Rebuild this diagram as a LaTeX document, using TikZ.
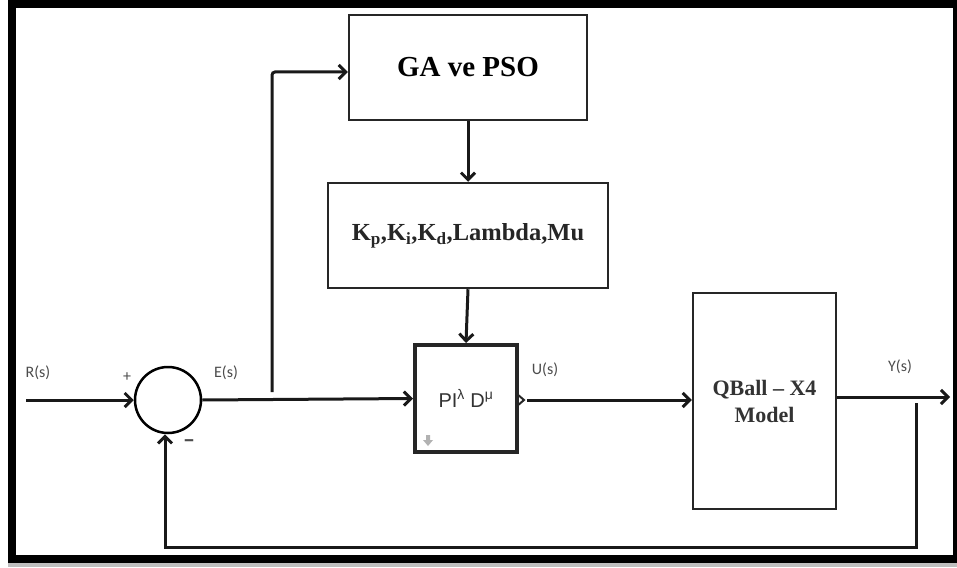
\documentclass[tikz,border=0pt]{standalone}
\usepackage{fontspec}
\usetikzlibrary{arrows.meta}
\newfontfamily\carl{Carlito}
\newfontfamily\tms{Liberation Serif}
\newfontfamily\arl{Liberation Sans}
\begin{document}
\begin{tikzpicture}[x=1pt,y=-1pt,
  blockbox/.style={draw=black!85,line width=2.5pt,inner sep=0pt,rectangle},
  conn/.style={line width=3pt,black!90,-{Straight Barb[length=7pt,width=14pt]}},
  sig/.style={font=\carl\fontsize{16}{18}\selectfont,text=black!70,inner sep=0pt}]
\useasboundingbox (0,0) rectangle (957,567);
% frame
\fill[black!25] (8,563) rectangle (957,567);
\fill[black] (8,0) rectangle (957,563);
\fill[white] (16,8) rectangle (953,555);
% blocks
\node[blockbox,minimum width=238pt,minimum height=105pt,font=\tms\bfseries\fontsize{29}{32}\selectfont] (ga) at (468,67.5) {GA ve PSO};
\node[blockbox,minimum width=280pt,minimum height=105pt,font=\tms\bfseries\fontsize{24.5}{26}\selectfont,text=black!85] (kb) at (468,235.5) {K\textsubscript{p},K\textsubscript{i},K\textsubscript{d},Lambda,Mu};
\node[blockbox,line width=4pt,minimum width=102pt,minimum height=107pt,font=\arl\fontsize{20}{22}\selectfont,text=black!80] (pid) at (466,398.5) {PI\textsuperscript{λ} D\textsuperscript{μ}};
\node[blockbox,minimum width=143pt,minimum height=216pt,align=center,font=\tms\bfseries\fontsize{22}{27}\selectfont,text=black!80] (qb) at (764.5,401) {QBall – X4\\Model};
\node[draw=black,line width=2.5pt,circle,minimum size=66pt,inner sep=0pt] (sum) at (168,400) {};
% small gray arrow inside PID
\fill[black!30] (426,435) rectangle (430,440) -- (423,440) -- (428,446) -- (433,440) -- (430,440);
% output port symbol
\coordinate (port) at (527,400);
\draw[line width=2pt,black!85] (517,394) -- (524,400) -- (517,406);
% coordinates
\coordinate (rin) at (26,400);
\coordinate (brtop) at (272,72);
\coordinate (yout) at (950,397);
\coordinate (fb) at (916,403);
\coordinate (fbr) at (916,547);
\coordinate (fbl) at (165,547);
% connectors
\draw[conn] (rin) -- (sum.west);
\draw[conn] (sum.east) -- (pid.west);
\draw[conn,rounded corners=3pt] (272,392) -- (brtop) -- (ga.west |- brtop);
\draw[conn] (ga.south) -- (kb.north);
\draw[conn] (kb.south) -- (pid.north);
\draw[conn] (port) -- (qb.west |- port);
\draw[conn] (qb.east |- yout) -- (yout);
\draw[conn] (fb) -- (fbr) -- (fbl) -- (sum.south -| fbl);
% labels
\node[sig] (rl) at (38,373) {R(s)};
\node[sig] (pl) at (127,377) {+};
\node[sig] (el) at (226,373) {E(s)};
\node[sig,font=\carl\bfseries\fontsize{24}{24}\selectfont] (ml) at (189,444) {–};
\node[sig] (ul) at (545,370) {U(s)};
\node[sig] (yl) at (900,367) {Y(s)};
\end{tikzpicture}
\end{document}
